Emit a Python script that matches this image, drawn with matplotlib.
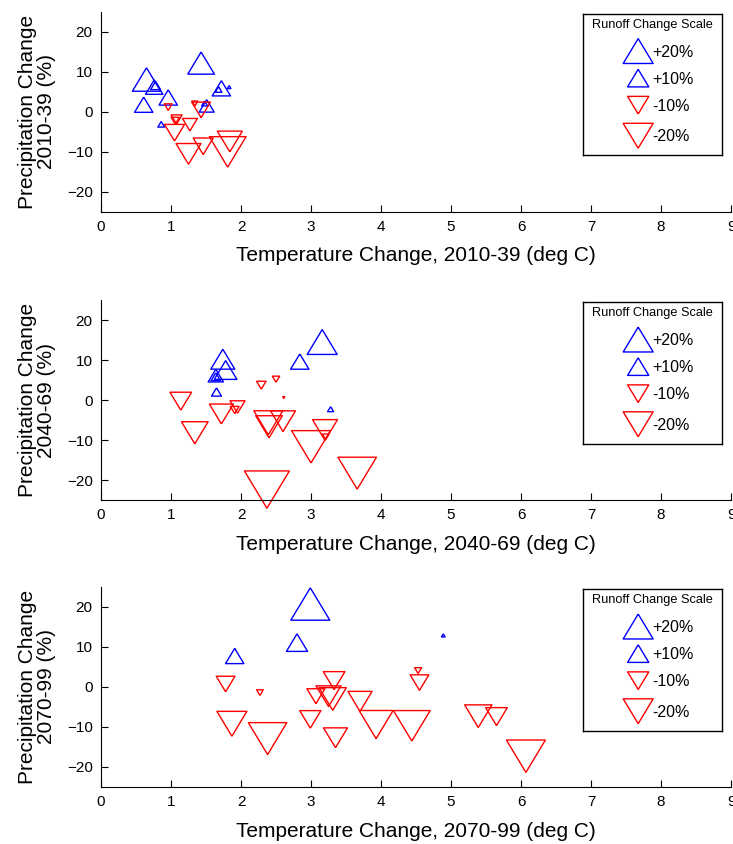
import matplotlib
matplotlib.use("Agg")
import matplotlib.pyplot as plt
import numpy as np

plt.rcParams['font.family'] = ['Liberation Sans', 'DejaVu Sans']

# ---- data: temperature change (deg C), precipitation change (%), runoff change (%)
periods = ["2010-39", "2040-69", "2070-99"]

temp_2010 = [1.43, 0.65, 0.76, 0.78, 0.61, 0.96, 1.72, 1.68, 1.83, 1.51, 1.48, 0.86,
             0.96, 1.43, 1.34, 1.08, 1.06, 1.27, 1.05, 1.25, 1.46, 1.81, 1.84]
precip_2010 = [12.1, 8.0, 6.1, 6.5, 1.7, 3.5, 5.8, 5.5, 6.1, 1.4, 2.0, -3.2,
               1.1, 0.4, 2.0, -2.0, -2.3, -3.3, -5.3, -10.6, -8.7, -10.1, -7.5]
runoff_2010 = [15.8, 17.8, 6.7, 2.2, 7.5, 7.5, 7.5, 1.0, 0.3, 5.0, 0.8, 1.0,
               -1.4, -7.8, -0.8, -2.7, -1.5, -5.0, -8.9, -13.9, -8.9, -30.0, -13.9]

temp_2040 = [3.16, 2.84, 1.74, 1.78, 1.64, 1.64, 1.65, 3.28,
             1.14, 1.34, 1.72, 1.95, 1.91, 2.29, 2.50, 2.61, 2.39, 2.60, 2.40,
             3.20, 3.00, 3.66, 2.37, 3.21]
precip_2040 = [14.5, 9.6, 10.2, 7.5, 6.1, 5.8, 2.0, -2.3,
               -0.3, -8.2, -3.5, -1.75, -2.5, 3.7, 5.2, 0.6, -5.7, -5.3, -6.7,
               -7.5, -11.7, -18.3, -22.4, -9.2]
runoff_2040 = [20.0, 7.5, 12.8, 11.4, 5.2, 2.0, 2.2, 0.8,
               -10.4, -15.8, -12.8, -5.0, -1.7, -2.0, -1.2, -0.1, -18.7, -13.9, -15.8,
               -13.9, -33.8, -33.0, -45.0, -1.0]

temp_2070 = [2.99, 2.80, 1.91, 4.89,
             1.78, 2.27, 3.33, 3.07, 3.25, 3.31, 3.70, 1.87, 2.38, 2.99, 3.35,
             3.93, 4.44, 4.55, 4.53, 5.39, 5.65, 6.07]
precip_2070 = [20.75, 11.1, 7.75, 12.9,
               0.75, -1.4, 1.6, -2.3, -2.3, -3.0, -3.6, -9.2, -12.9, -8.1, -12.7,
               -9.4, -9.7, 1.1, 4.1, -7.3, -7.4, -17.3]
runoff_2070 = [33.8, 10.0, 7.5, 0.3,
               -7.8, -1.0, -10.4, -7.2, -13.9, -16.6, -13.0, -20.0, -33.0, -10.0, -12.8,
               -25.7, -30.0, -7.8, -1.1, -16.6, -10.4, -33.8]

scale_values = [20, 10, -10, -20]
scale_labels = ["+20%", "+10%", "-10%", "-20%"]

x_ticks = list(range(0, 10))
y_ticks = [-20, -10, 0, 10, 20]

# ---- marker geometry: MATLAB-style flattened triangles, area proportional to |runoff|
H = 0.83
tri_up = [(0, H), (-1, -H), (1, -H), (0, H)]
tri_down = [(0, -H), (-1, H), (1, H), (0, -H)]
AREA_PER_PCT = 23.3  # points^2 per % runoff change
LW = 1.0


def draw_runoff(ax, t, p, r):
    t = np.asarray(t)
    p = np.asarray(p)
    r = np.asarray(r)
    up = r > 0
    dn = ~up
    ax.scatter(t[up], p[up], s=AREA_PER_PCT * np.abs(r[up]), marker=tri_up,
               facecolors='none', edgecolors='#0000ff', linewidths=LW, clip_on=False)
    ax.scatter(t[dn], p[dn], s=AREA_PER_PCT * np.abs(r[dn]), marker=tri_down,
               facecolors='none', edgecolors='#ff0000', linewidths=LW, clip_on=False)


def draw_scale_box(ax):
    box = ax.inset_axes([0.7655, 0.281, 0.2203, 0.7068])
    box.set_xlim(0, 139)
    box.set_ylim(141, 0)
    box.set_xticks([])
    box.set_yticks([])
    for sp in box.spines.values():
        sp.set_linewidth(1.0)
        sp.set_color('black')
    box.text(69.5, 11, "Runoff Change Scale", ha='center', va='center', fontsize=9.2)
    ys = [37, 64, 91, 121.5]
    for v, lab, yy in zip(scale_values, scale_labels, ys):
        mk = tri_up if v > 0 else tri_down
        col = '#0000ff' if v > 0 else '#ff0000'
        box.scatter([55], [yy], s=AREA_PER_PCT * abs(v), marker=mk,
                    facecolors='none', edgecolors=col, linewidths=LW)
        box.text(69, yy + 1, lab, ha='left', va='center', fontsize=11.5)


fig = plt.figure(figsize=(7.33, 8.44), dpi=100)
W, Hpx = 733, 844
left, right = 101, 731
panel_tops = [11.5, 300, 587]
panel_h = 200

datasets = [(temp_2010, precip_2010, runoff_2010),
            (temp_2040, precip_2040, runoff_2040),
            (temp_2070, precip_2070, runoff_2070)]

for top, per, (t, p, r) in zip(panel_tops, periods, datasets):
    ax = fig.add_axes([left / W, 1 - (top + panel_h) / Hpx,
                       (right - left) / W, panel_h / Hpx])
    ax.set_xlim(0, 9)
    ax.set_ylim(-25, 25)
    ax.set_xticks(x_ticks)
    ax.set_yticks(y_ticks)
    ax.spines['top'].set_visible(False)
    ax.spines['right'].set_visible(False)
    ax.tick_params(direction='in', length=5, width=0.8, labelsize=11, pad=6)
    ax.set_xlabel(f"Temperature Change, {per} (deg C)", fontsize=15, labelpad=9)
    ax.set_ylabel(f"Precipitation Change\n{per} (%)", fontsize=15, labelpad=8,
                  linespacing=1.0)
    draw_runoff(ax, t, p, r)
    draw_scale_box(ax)

fig.savefig("out.png", dpi=100)
